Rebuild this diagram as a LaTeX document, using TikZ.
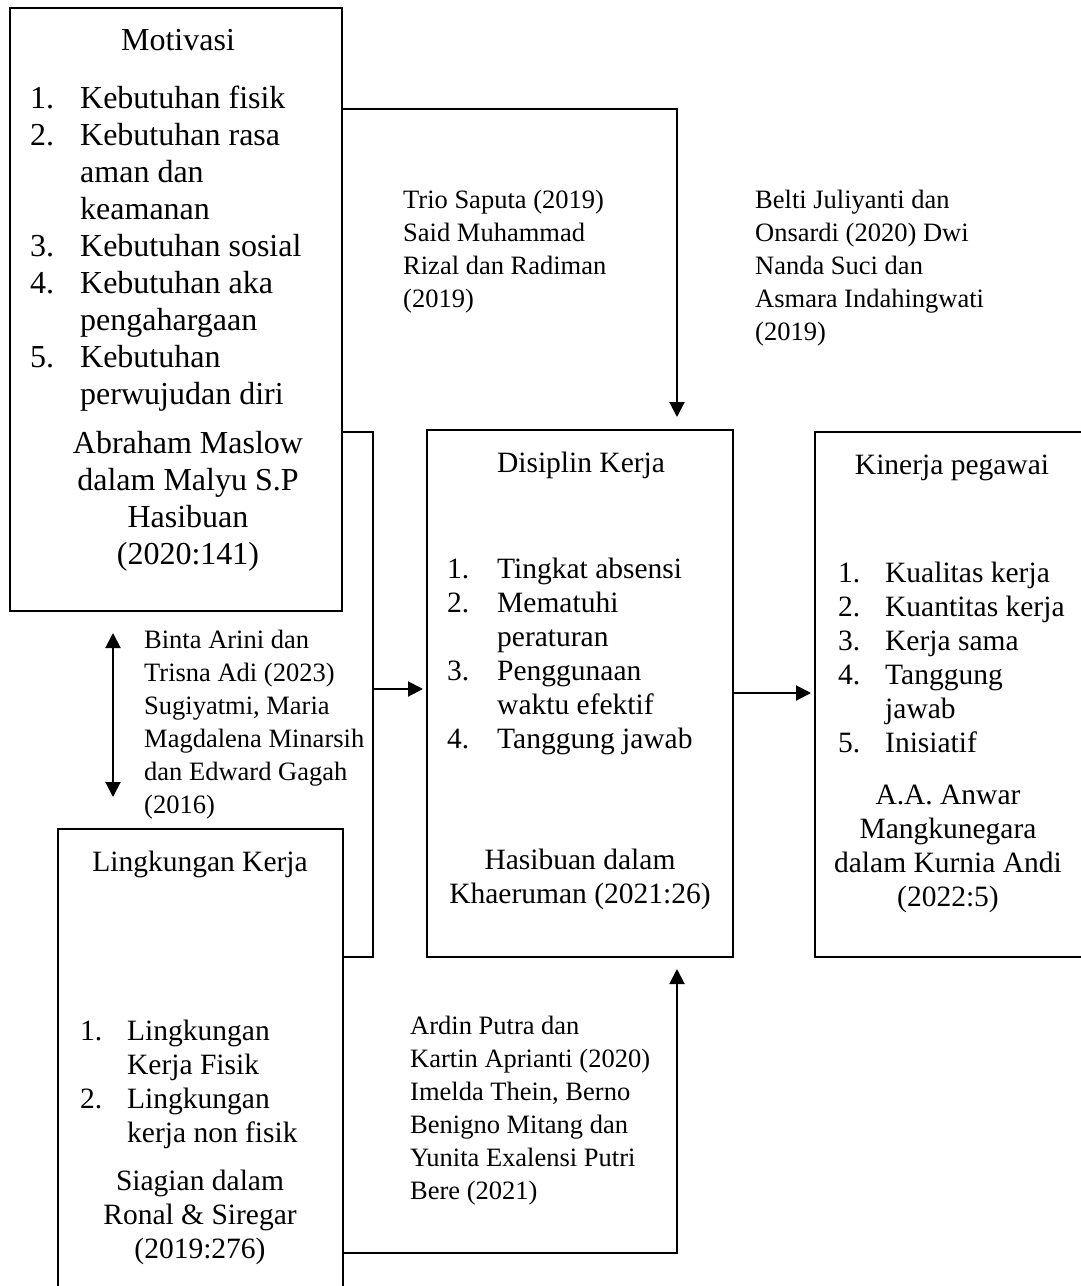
\documentclass[tikz,border=0pt]{standalone}
\usepackage{fontspec}
\setmainfont{Liberation Serif}
\usetikzlibrary{arrows.meta}
\newcommand{\fsA}{\fontsize{32}{37}\selectfont}
\newcommand{\fsB}{\fontsize{29.5}{34}\selectfont}
\newcommand{\fsC}{\fontsize{26.5}{33}\selectfont}
\begin{document}
\begin{tikzpicture}[x=1pt,y=-1pt,
  box/.style={draw,line width=2pt,rectangle,inner sep=0pt,outer sep=0pt,anchor=north west},
  conn/.style={line width=2pt},
  arr/.style={line width=2pt,-{Triangle[length=15pt,width=15pt]}},
  darr/.style={line width=2pt,{Triangle[length=15pt,width=15pt]}-{Triangle[length=15pt,width=15pt]}},
  tA/.style={inner sep=0pt,font=\fsA},
  tB/.style={inner sep=0pt,font=\fsB},
  tC/.style={inner sep=0pt,font=\fsC,anchor=base west}]
\useasboundingbox (0,0) rectangle (1081,1286);
% boxes
\node[box,minimum width=332pt,minimum height=603pt] (mot) at (10,8) {};
\node[box,minimum width=306pt,minimum height=527pt] (dis) at (427,430) {};
\node[box,minimum width=280pt,minimum height=525pt] (kin) at (815,432) {};
\node[box,minimum width=285pt,minimum height=500pt] (lin) at (58,829) {};
% Motivasi texts
\node[tA,anchor=base] (motT) at (178,50) {Motivasi};
\node[tA,anchor=base west] (motL) at (30,108) {\begin{tabular}[t]{@{}p{50pt}@{}l@{}}1.&Kebutuhan fisik\\2.&Kebutuhan rasa\\&aman dan\\&keamanan\\3.&Kebutuhan sosial\\4.&Kebutuhan aka\\&pengahargaan\\5.&Kebutuhan\\&perwujudan diri\end{tabular}};
\node[tA,anchor=base] (motR) at (188,453) {\begin{tabular}[t]{@{}c@{}}Abraham Maslow\\dalam Malyu S.P\\Hasibuan\\(2020:141)\end{tabular}};
% Disiplin texts
\node[tB,anchor=base] (disT) at (581,472) {Disiplin Kerja};
\node[tB,anchor=base west] (disL) at (447,578) {\begin{tabular}[t]{@{}p{50pt}@{}l@{}}1.&Tingkat absensi\\2.&Mematuhi\\&peraturan\\3.&Penggunaan\\&waktu efektif\\4.&Tanggung jawab\end{tabular}};
\node[tB,anchor=base] (disR) at (580,869) {\begin{tabular}[t]{@{}c@{}}Hasibuan dalam\\Khaeruman (2021:26)\end{tabular}};
% Kinerja texts
\node[tB,anchor=base] (kinT) at (952,474) {Kinerja pegawai};
\node[tB,anchor=base west] (kinL) at (838,582) {\begin{tabular}[t]{@{}p{47pt}@{}l@{}}1.&Kualitas kerja\\2.&Kuantitas kerja\\3.&Kerja sama\\4.&Tanggung\\&jawab\\5.&Inisiatif\end{tabular}};
\node[tB,anchor=base] (kinR) at (948,804) {\begin{tabular}[t]{@{}c@{}}A.A. Anwar\\Mangkunegara\\dalam Kurnia Andi\\(2022:5)\end{tabular}};
% Lingkungan texts
\node[tB,anchor=base] (linT) at (200,871) {Lingkungan Kerja};
\node[tB,anchor=base west] (linL) at (80,1040) {\begin{tabular}[t]{@{}p{47pt}@{}l@{}}1.&Lingkungan\\&Kerja Fisik\\2.&Lingkungan\\&kerja non fisik\end{tabular}};
\node[tB,anchor=base] (linR) at (200,1190) {\begin{tabular}[t]{@{}c@{}}Siagian dalam\\Ronal \& Siregar\\(2019:276)\end{tabular}};
% annotations
\node[tC] (an1) at (403,208) {\begin{tabular}[t]{@{}l@{}}Trio Saputa (2019)\\Said Muhammad\\Rizal dan Radiman\\(2019)\end{tabular}};
\node[tC] (an2) at (755,208) {\begin{tabular}[t]{@{}l@{}}Belti Juliyanti dan\\Onsardi (2020) Dwi\\Nanda Suci dan\\Asmara Indahingwati\\(2019)\end{tabular}};
\node[tC] (an3) at (144,648) {\begin{tabular}[t]{@{}l@{}}Binta Arini dan\\Trisna Adi (2023)\\Sugiyatmi, Maria\\Magdalena Minarsih\\dan Edward Gagah\\(2016)\end{tabular}};
\node[tC] (an4) at (410,1034) {\begin{tabular}[t]{@{}l@{}}Ardin Putra dan\\Kartin Aprianti (2020)\\Imelda Thein, Berno\\Benigno Mitang dan\\Yunita Exalensi Putri\\Bere (2021)\end{tabular}};
% connectors
\coordinate (y1) at (0,109);
\coordinate (t1) at (677,417);
\draw[arr] (mot.east |- y1) -| (t1);
\coordinate (j1) at (373,432);
\coordinate (j2) at (373,957);
\draw[conn] (mot.east |- j1) -- (j1) -- (j2) -- (lin.east |- j2);
\coordinate (j3) at (373,689);
\draw[arr,shorten >=4pt] (j3) -- (dis.west |- j3);
\coordinate (b1) at (677,1253);
\coordinate (t3) at (677,969);
\draw[arr] (lin.east |- b1) -- (b1) -- (t3);
\coordinate (k1) at (0,693);
\draw[arr,shorten >=4pt] (dis.east |- k1) -- (kin.west |- k1);
\coordinate (d1) at (113,633);
\coordinate (d2) at (113,797);
\draw[darr] (d1) -- (d2);
\end{tikzpicture}
\end{document}
